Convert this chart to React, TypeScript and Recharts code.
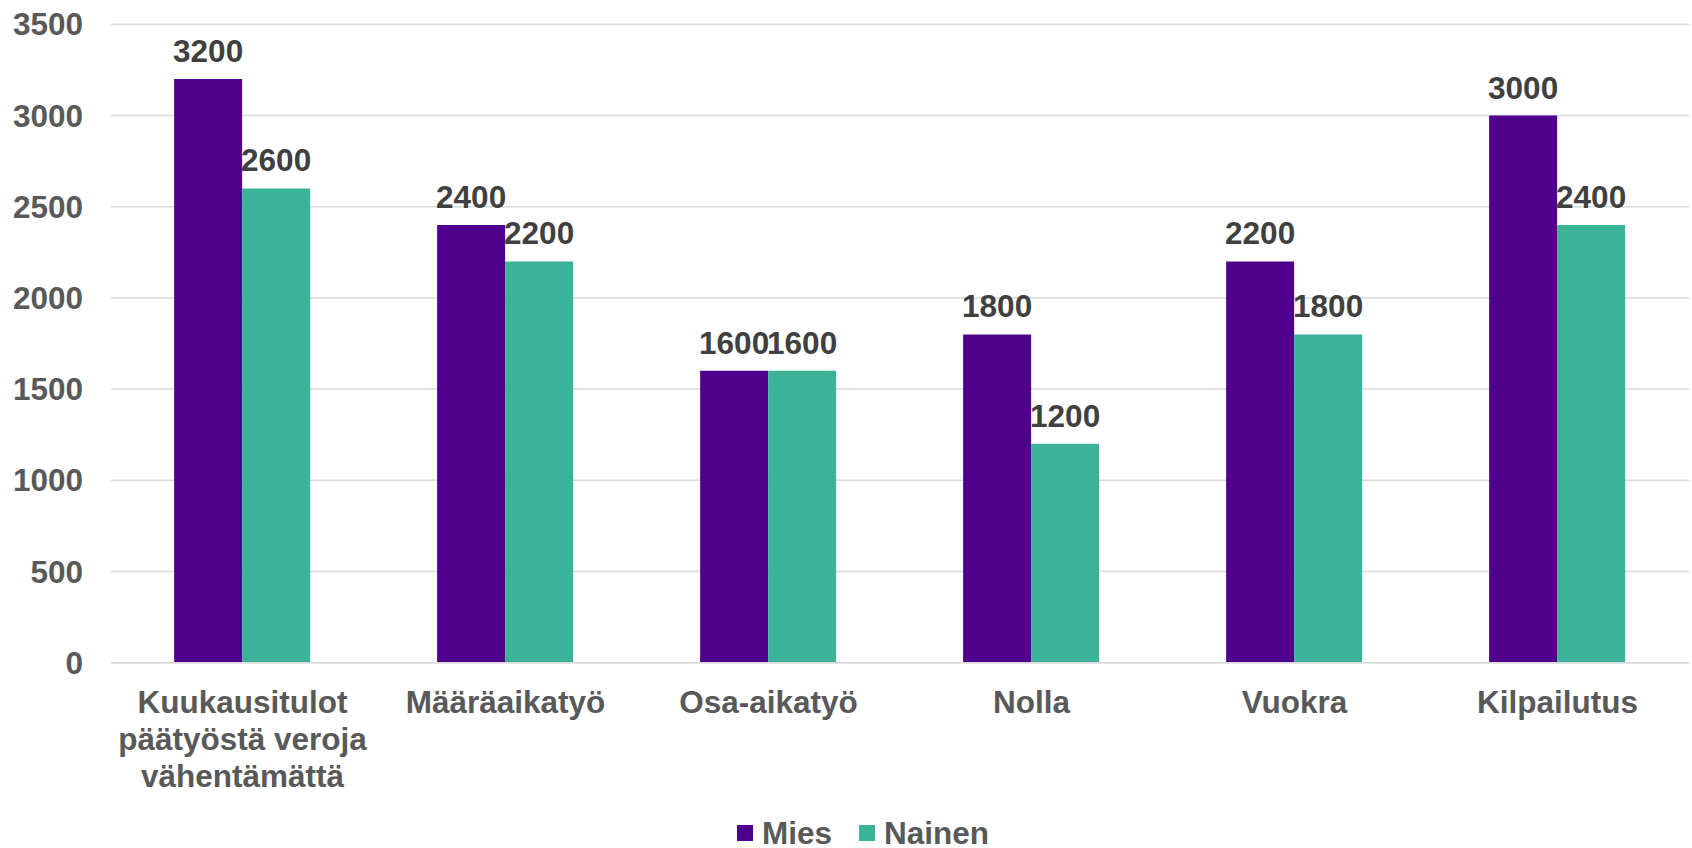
import { BarChart, Bar, XAxis, YAxis, CartesianGrid, Legend, LabelList } from "recharts";

const categories = [
  "Kuukausitulot päätyöstä veroja vähentämättä",
  "Määräaikatyö",
  "Osa-aikatyö",
  "Nolla",
  "Vuokra",
  "Kilpailutus",
];
const mies = [3200, 2400, 1600, 1800, 2200, 3000];
const nainen = [2600, 2200, 1600, 1200, 1800, 2400];
const yTicks = [0, 500, 1000, 1500, 2000, 2500, 3000, 3500];

const FONT = "'Liberation Sans', Arial, sans-serif";
const PURPLE = "#4F008C";
const TEAL = "#3BB399";

const data = categories.map((name, i) => ({
  name,
  Mies: mies[i],
  Nainen: nainen[i],
}));

const textStyle = {
  fontSize: 31.5,
  fontWeight: "bold" as const,
  fontFamily: FONT,
};

let ctx: CanvasRenderingContext2D | null = null;
function wrap(label: string, maxWidth: number): string[] {
  if (!ctx) {
    ctx = document.createElement("canvas").getContext("2d");
    if (ctx) ctx.font = `bold 31.5px ${FONT}`;
  }
  const words = label.split(" ");
  const lines: string[] = [];
  let cur = "";
  for (const w of words) {
    const test = cur ? cur + " " + w : w;
    const width = ctx ? ctx.measureText(test).width : test.length * 17;
    if (cur && width > maxWidth) {
      lines.push(cur);
      cur = w;
    } else {
      cur = test;
    }
  }
  if (cur) lines.push(cur);
  return lines;
}

function CategoryTick(props: any) {
  const { x, y, payload } = props;
  const lines = wrap(payload.value, 255);
  return (
    <text x={x} y={y + 50} textAnchor="middle" fill="#595959" style={textStyle}>
      {lines.map((l, i) => (
        <tspan key={i} x={x} dy={i === 0 ? 0 : 37}>
          {l}
        </tspan>
      ))}
    </text>
  );
}

function LegendContent() {
  const items = [
    { label: "Mies", color: PURPLE },
    { label: "Nainen", color: TEAL },
  ];
  return (
    <div
      style={{
        display: "flex",
        alignItems: "center",
        height: 30,
        lineHeight: "30px",
        paddingLeft: 737,
        ...textStyle,
        color: "#595959",
      }}
    >
      {items.map((it, i) => (
        <div
          key={it.label}
          style={{ display: "flex", alignItems: "center", marginRight: i === 0 ? 27 : 0 }}
        >
          <span
            style={{
              display: "inline-block",
              width: 16,
              height: 16,
              background: it.color,
              marginRight: 9,
            }}
          />
          <span>{it.label}</span>
        </div>
      ))}
    </div>
  );
}

export default function App() {
  return (
    <div style={{ position: "absolute", left: 0, top: 0, fontFamily: FONT }}>
      <BarChart
        width={1692}
        height={848}
        data={data}
        margin={{ top: 24.3, right: 3, bottom: 0, left: 0 }}
        barCategoryGap="24%"
        barGap={0}
      >
        <CartesianGrid vertical={false} stroke="#D9D9D9" strokeWidth={1.5} />
        <XAxis
          dataKey="name"
          interval={0}
          height={155.3}
          tickSize={0}
          tickMargin={0}
          axisLine={{ stroke: "#D9D9D9", strokeWidth: 1.5 }}
          tickLine={false}
          tick={<CategoryTick />}
        />
        <YAxis
          width={111}
          domain={[0, 3500]}
          ticks={yTicks}
          axisLine={false}
          tickLine={false}
          tickSize={0}
          tickMargin={28}
          tick={{ fill: "#595959", ...textStyle }}
        />
        <Legend
          verticalAlign="bottom"
          wrapperStyle={{ left: 0, width: 1692 }}
          content={<LegendContent />}
        />
        <Bar dataKey="Mies" fill={PURPLE} isAnimationActive={false}>
          <LabelList
            dataKey="Mies"
            position="top"
            offset={17}
            fill="#404040"
            fontSize={31.5}
            fontWeight="bold"
            fontFamily={FONT}
          />
        </Bar>
        <Bar dataKey="Nainen" fill={TEAL} isAnimationActive={false}>
          <LabelList
            dataKey="Nainen"
            position="top"
            offset={17}
            fill="#404040"
            fontSize={31.5}
            fontWeight="bold"
            fontFamily={FONT}
          />
        </Bar>
      </BarChart>
    </div>
  );
}
